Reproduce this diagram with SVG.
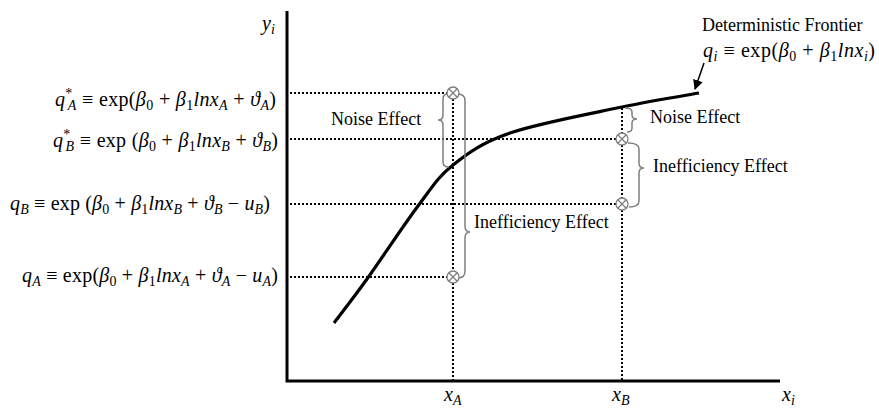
<svg xmlns="http://www.w3.org/2000/svg" width="879" height="410" viewBox="0 0 879 410">
<style>
.t{font-family:"Liberation Serif","DejaVu Serif",serif;font-size:18px;fill:#000}
.m{font-size:20px}
.i{font-style:italic}
.s{font-size:14px}
.dot{stroke:#000;stroke-width:2;stroke-dasharray:2 2;fill:none}
.br{stroke:#7f7f7f;stroke-width:1.5;fill:none}
.ax{stroke:#000;stroke-width:3;fill:none}
.cir{stroke:#7f7f7f;stroke-width:1.3;fill:#fff}
</style>
<defs>
<marker id="ah" viewBox="0 0 10 10" refX="9" refY="5" markerWidth="10" markerHeight="10" markerUnits="userSpaceOnUse" orient="auto">
<path d="M0,0 L10,5 L0,10 z" fill="#000"/>
</marker>
<g id="ox"><circle class="cir" cx="0" cy="0" r="6"/><path d="M-4.2,-4.2 L4.2,4.2 M4.2,-4.2 L-4.2,4.2" stroke="#7f7f7f" stroke-width="1.3"/></g>
</defs>
<g id="axes">
<path class="ax" d="M287,11 L287,381 L780,381"/>
</g>
<g id="connectors">
<path class="dot" d="M290,93 L447,93 M290,139 L616,139 M290,204 L616,204 M290,277 L447,277"/>
<path class="dot" d="M453,99 L453,271 M453,283 L453,380 M622,108 L622,133 M622,145 L622,198 M622,210 L622,380"/>
<path id="frontier" d="M334,323 C339.5,315.7 353,298.5 367,279 C381,259.5 403.7,225 418,206 C432.3,187 437.7,177.2 453,165 C468.3,152.8 481.8,142.7 510,133 C538.2,123.3 590.5,113.7 622,107 C653.5,100.3 686.2,95.3 699,93" stroke="#000" stroke-width="3.2" fill="none"/>
<line x1="704" y1="63" x2="695" y2="89" stroke="#000" stroke-width="1.5" marker-end="url(#ah)"/>
</g>
<g id="braces">
<path class="br" d="M448,94 Q443,94 443,99 L443,115 Q443,120 438,120 Q443,120 443,125 L443,162 Q443,167 449,167"/>
<path class="br" d="M458,94 Q465,94 465,101 L465,226 Q465,232 470,232 Q465,232 465,238 L465,271 Q465,278 458,278"/>
<path class="br" d="M625,108 Q632,108 632,112 L632,115 Q632,119 637,119 Q632,119 632,123 L632,128 Q632,132 627,132"/>
<path class="br" d="M628,143 Q639,143 639,149 L639,163 Q639,168 644,168 Q639,168 639,173 L639,201 Q639,207 629,207"/>
</g>
<g id="points">
<use href="#ox" x="453" y="93"/>
<use href="#ox" x="453" y="277"/>
<use href="#ox" x="622" y="139"/>
<use href="#ox" x="622" y="204"/>
</g>
<g id="labels">
<text class="t" x="331" y="125">Noise Effect</text>
<text class="t" x="474" y="228">Inefficiency Effect</text>
<text class="t" x="650" y="123">Noise Effect</text>
<text class="t" x="653" y="172">Inefficiency Effect</text>
<text class="t" x="702" y="31">Deterministic Frontier</text>
<text class="t m" x="703" y="57" textLength="172" lengthAdjust="spacing"><tspan class="i">q</tspan><tspan class="i s" dy="4">i</tspan><tspan dy="-4"> ≡ exp(</tspan><tspan class="i">β</tspan><tspan class="s" dy="4">0</tspan><tspan dy="-4"> + </tspan><tspan class="i">β</tspan><tspan class="s" dy="4">1</tspan><tspan class="i" dy="-4">lnx</tspan><tspan class="i s" dy="4">i</tspan><tspan dy="-4">)</tspan></text>
<text class="t m" x="262" y="30"><tspan class="i">y</tspan><tspan class="i s" dy="4">i</tspan></text>
<text class="t m" x="444" y="401"><tspan class="i">x</tspan><tspan class="i s" dy="4">A</tspan></text>
<text class="t m" x="612" y="401"><tspan class="i">x</tspan><tspan class="i s" dy="4">B</tspan></text>
<text class="t m" x="782" y="401"><tspan class="i">x</tspan><tspan class="i s" dy="4">i</tspan></text>
<text class="t m" x="55" y="106" textLength="221" lengthAdjust="spacing"><tspan class="i">q</tspan><tspan class="s" dy="-8">*</tspan><tspan class="i s" dx="-5" dy="12">A</tspan><tspan dy="-4"> ≡ exp(</tspan><tspan class="i">β</tspan><tspan class="s" dy="4">0</tspan><tspan dy="-4"> + </tspan><tspan class="i">β</tspan><tspan class="s" dy="4">1</tspan><tspan class="i" dy="-4">lnx</tspan><tspan class="i s" dy="4">A</tspan><tspan dy="-4"> + </tspan><tspan class="i">ϑ</tspan><tspan class="i s" dy="4">A</tspan><tspan dy="-4">)</tspan></text>
<text class="t m" x="53" y="147" textLength="225" lengthAdjust="spacing"><tspan class="i">q</tspan><tspan class="s" dy="-8">*</tspan><tspan class="i s" dx="-5" dy="12">B</tspan><tspan dy="-4"> ≡ exp (</tspan><tspan class="i">β</tspan><tspan class="s" dy="4">0</tspan><tspan dy="-4"> + </tspan><tspan class="i">β</tspan><tspan class="s" dy="4">1</tspan><tspan class="i" dy="-4">lnx</tspan><tspan class="i s" dy="4">B</tspan><tspan dy="-4"> + </tspan><tspan class="i">ϑ</tspan><tspan class="i s" dy="4">B</tspan><tspan dy="-4">)</tspan></text>
<text class="t m" x="10" y="210" textLength="260" lengthAdjust="spacing"><tspan class="i">q</tspan><tspan class="i s" dy="4">B</tspan><tspan dy="-4"> ≡ exp (</tspan><tspan class="i">β</tspan><tspan class="s" dy="4">0</tspan><tspan dy="-4"> + </tspan><tspan class="i">β</tspan><tspan class="s" dy="4">1</tspan><tspan class="i" dy="-4">lnx</tspan><tspan class="i s" dy="4">B</tspan><tspan dy="-4"> + </tspan><tspan class="i">ϑ</tspan><tspan class="i s" dy="4">B</tspan><tspan dy="-4"> − </tspan><tspan class="i">u</tspan><tspan class="i s" dy="4">B</tspan><tspan dy="-4">)</tspan></text>
<text class="t m" x="22" y="282" textLength="256" lengthAdjust="spacing"><tspan class="i">q</tspan><tspan class="i s" dy="4">A</tspan><tspan dy="-4"> ≡ exp(</tspan><tspan class="i">β</tspan><tspan class="s" dy="4">0</tspan><tspan dy="-4"> + </tspan><tspan class="i">β</tspan><tspan class="s" dy="4">1</tspan><tspan class="i" dy="-4">lnx</tspan><tspan class="i s" dy="4">A</tspan><tspan dy="-4"> + </tspan><tspan class="i">ϑ</tspan><tspan class="i s" dy="4">A</tspan><tspan dy="-4"> − </tspan><tspan class="i">u</tspan><tspan class="i s" dy="4">A</tspan><tspan dy="-4">)</tspan></text>
</g>
</svg>
